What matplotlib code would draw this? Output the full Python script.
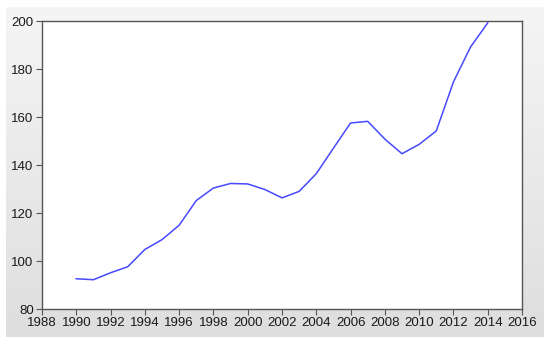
import numpy as np
import matplotlib
matplotlib.use("Agg")
import matplotlib.pyplot as plt

years = list(range(1990, 2015))
values = [92.6, 92.2, 95.1, 97.6, 104.8, 108.9, 114.9, 125.2, 130.4, 132.3, 132.1,
          129.8, 126.3, 129.0, 136.4, 147.0, 157.5, 158.2, 150.8, 144.7, 148.6,
          154.2, 174.6, 189.2, 199.2]
x_ticks = list(range(1988, 2017, 2))
y_ticks = [80, 100, 120, 140, 160, 180, 200]

plt.rcParams['font.family'] = ['Liberation Sans', 'DejaVu Sans']

fig = plt.figure(figsize=(5.5, 3.44), dpi=100)
fig.patch.set_facecolor("white")

# grey gradient panel behind the plot
bg = fig.add_axes([6 / 550, 1 - 337 / 344, 538 / 550, 330 / 344], zorder=0)
grad = np.linspace(0, 1, 256).reshape(-1, 1)
bg.imshow(grad, aspect="auto", cmap=matplotlib.colors.LinearSegmentedColormap.from_list(
    "g", ["#f5f5f5", "#dedede"]), extent=[0, 1, 0, 1], origin="upper")
bg.set_axis_off()

ax = fig.add_axes([42 / 550, 1 - 309 / 344, 480 / 550, 288 / 344], zorder=1)
ax.set_facecolor("white")
ax.plot(years, values, color="#4848ff", linewidth=1.1)

ax.set_xlim(1988, 2016)
ax.set_ylim(80, 200)
ax.set_xticks(x_ticks)
ax.set_yticks(y_ticks)
for s in ax.spines.values():
    s.set_color("#555555")
    s.set_linewidth(1.0)
ax.tick_params(direction="out", length=4, width=0.8, color="#555555",
               labelsize=9.5, labelcolor="#1a1a1a", pad=2)

fig.savefig("out.png", dpi=100)
